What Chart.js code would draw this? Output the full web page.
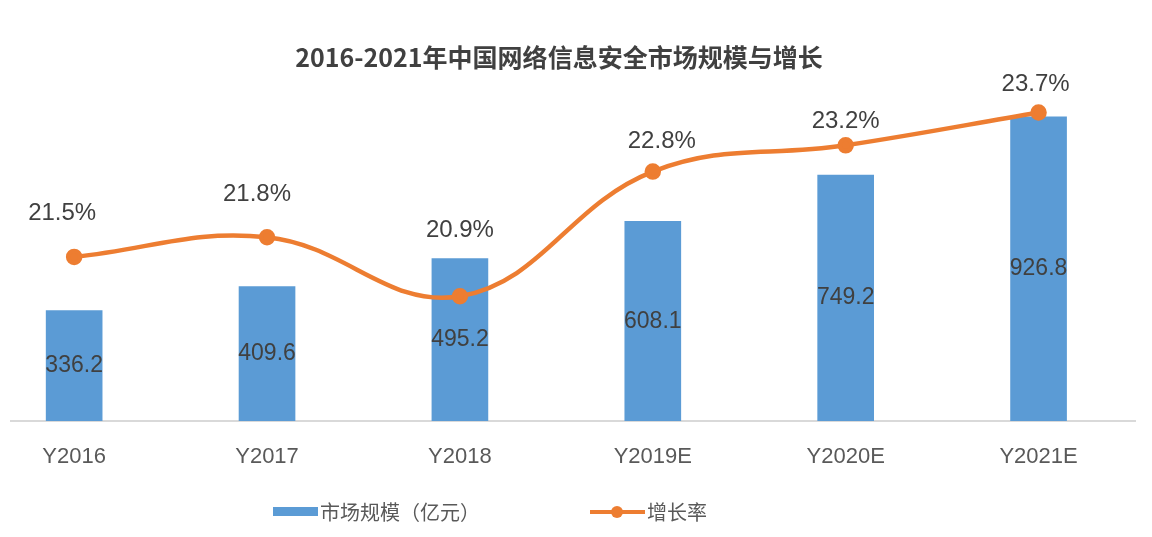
<!DOCTYPE html>
<html>
<head>
<meta charset="utf-8">
<script src="https://cdn.jsdelivr.net/npm/chart.js@4"></script>
<style>
  html, body { margin: 0; padding: 0; background: #ffffff; }
  #wrap { width: 1152px; height: 537px; }
</style>
</head>
<body>
<div id="wrap"><canvas id="chart" width="1152" height="537"></canvas></div>
<script>
// 数据
const categories = ['Y2016', 'Y2017', 'Y2018', 'Y2019E', 'Y2020E', 'Y2021E'];
const marketSize = [336.2, 409.6, 495.2, 608.1, 749.2, 926.8];
const growthRate = [21.5, 21.8, 20.9, 22.8, 23.2, 23.7];

// 百分比标签的偏移（像素，仅样式）
const rateLabelDx = [-12, -10, 0, 9, 0, -3];
const rateLabelDy = [44, 43, 66, 30, 24, 28];

const FONT = '"Liberation Sans", "Noto Sans CJK SC", sans-serif';
const CJK = '"Noto Sans CJK SC", "Liberation Sans", sans-serif';
const BLUE = '#5B9BD5';
const ORANGE = '#ED7D31';

// 标题、标签和图例都自己画
const labelsPlugin = {
  id: 'labels',
  afterDatasetsDraw(chart) {
    const ctx = chart.ctx;
    ctx.save();
    ctx.textAlign = 'center';
    ctx.textBaseline = 'middle';

    // 柱子中间的数值
    const barMeta = chart.getDatasetMeta(0);
    ctx.font = '23px ' + FONT;
    ctx.fillStyle = '#404040';
    barMeta.data.forEach((bar, i) => {
      ctx.fillText(marketSize[i].toFixed(1), bar.x, (bar.y + bar.base) / 2);
    });

    // 增长率标签
    const lineMeta = chart.getDatasetMeta(1);
    ctx.font = '24px ' + FONT;
    lineMeta.data.forEach((pt, i) => {
      ctx.fillText(growthRate[i].toFixed(1) + '%', pt.x + rateLabelDx[i], pt.y - rateLabelDy[i]);
    });

    // 标题
    ctx.font = 'bold 25px ' + CJK;
    ctx.fillStyle = '#404040';
    ctx.fillText('2016-2021年中国网络信息安全市场规模与增长', 559, 57);

    // 图例
    ctx.textAlign = 'left';
    ctx.font = '20px ' + CJK;
    ctx.fillStyle = BLUE;
    ctx.fillRect(273, 507, 45, 9);
    ctx.fillStyle = '#595959';
    ctx.fillText('市场规模（亿元）', 320, 512);

    ctx.strokeStyle = ORANGE;
    ctx.lineWidth = 4;
    ctx.beginPath();
    ctx.moveTo(590, 512);
    ctx.lineTo(645, 512);
    ctx.stroke();
    ctx.fillStyle = ORANGE;
    ctx.beginPath();
    ctx.arc(617, 512, 6, 0, Math.PI * 2);
    ctx.fill();
    ctx.fillStyle = '#595959';
    ctx.fillText('增长率', 647, 512);
    ctx.restore();
  }
};

new Chart(document.getElementById('chart'), {
  type: 'bar',
  data: {
    datasets: [
      {
        label: '市场规模（亿元）',
        data: marketSize.map((v, i) => ({ x: i, y: v })),
        backgroundColor: BLUE,
        barThickness: 56,
        yAxisID: 'y',
        order: 1
      },
      {
        type: 'line',
        label: '增长率',
        data: growthRate.map((v, i) => ({ x: i, y: v })),
        borderColor: ORANGE,
        backgroundColor: ORANGE,
        borderWidth: 4.5,
        pointRadius: 6,
        pointHoverRadius: 6,
        tension: 0.4,
        clip: false,
        yAxisID: 'y1',
        order: 0
      }
    ]
  },
  options: {
    responsive: false,
    animation: false,
    layout: { padding: { top: 60, left: 0, right: 17, bottom: 0 } },
    plugins: {
      legend: { display: false },
      title: { display: false },
      tooltip: { enabled: false }
    },
    scales: {
      x: {
        type: 'linear',
        offset: false,
        min: -0.33,
        max: 5.5,
        grid: { display: false },
        border: { display: true, color: '#D9D9D9', width: 2 },
        afterBuildTicks(scale) {
          scale.ticks = categories.map((c, i) => ({ value: i }));
        },
        afterFit(scale) { scale.height = 116; },
        ticks: {
          autoSkip: false,
          maxRotation: 0,
          padding: 15,
          color: '#595959',
          font: { size: 22, family: FONT },
          callback: (v) => categories[v]
        }
      },
      y: { display: false, min: 0, max: 1100 },
      y1: { display: false, min: 19.0, max: 24.5 }
    }
  },
  plugins: [labelsPlugin]
});
</script>
</body>
</html>
